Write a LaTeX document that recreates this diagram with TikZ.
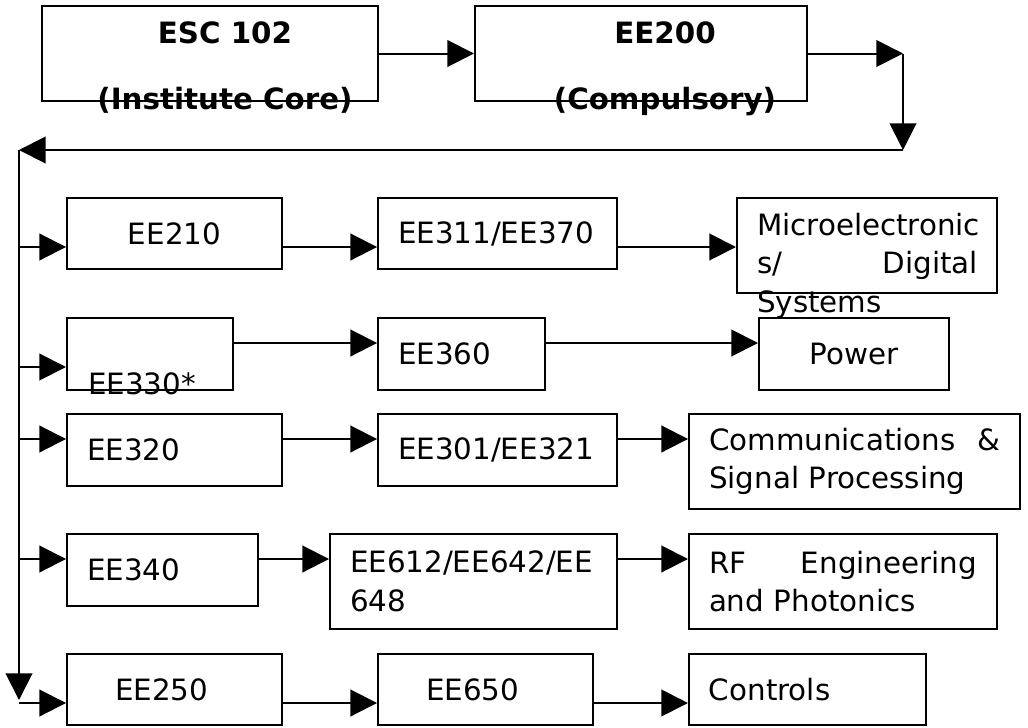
\documentclass[tikz,border=0pt]{standalone}
\usepackage{fontspec}
\setmainfont{DejaVu Sans}
\usetikzlibrary{arrows.meta,positioning,calc}
\tikzset{every picture/.style={line width=0.75pt}}
\newcommand\bodyfont{\fontsize{11}{14.5}\selectfont}
\tikzset{
  box/.style={draw, inner xsep=7.5pt, inner ysep=0pt, minimum height=26.8pt, align=left},
  tallbox/.style={box, minimum height=35.6pt},
  txt/.style={inner sep=0pt},
  arr/.style={-{Triangle[length=10pt,width=10pt]}},
}

\begin{document}
\begin{tikzpicture}[x=0.375pt, y=-0.375pt, font=\bodyfont]
    \useasboundingbox (0,0) rectangle (1028,728);

    % core courses
    \node[tallbox, minimum width=126pt] (esc) at (210,53.5) {};
    \node[txt, font=\bodyfont\bfseries, align=center, anchor=base] (esct) at (225,109) {ESC 102\\[10.25pt](Institute Core)};
    \node[tallbox, minimum width=124.5pt] (ee200) at (641,53.5) {};
    \node[txt, font=\bodyfont\bfseries, align=center, anchor=base] (ee200t) at (665,109) {EE200\\[10.25pt](Compulsory)};

    % turn back to the left
    \coordinate (c1) at (903,53.5);
    \coordinate (c2) at (903,150);
    \coordinate (c3) at (19,150);
    \coordinate (c4) at (19,700);
    \draw[arr] (esc) -- (ee200);
    \draw[arr] (ee200) -- (c1);
    \draw[arr] (c1) -- (c2);
    \draw[arr] (c2) -- (c3);
    \draw[arr] (c3) -- (c4);

    % branch points on the spine
    \coordinate (r1) at (19,247);
    \coordinate (r2) at (19,367);
    \coordinate (s2) at (19,343);
    \coordinate (r3) at (19,439);
    \coordinate (r4) at (19,559);
    \coordinate (r5) at (19,703);

    % row 1
    \node[box, text width=65.6pt, align=center] (ee210) at (174.5,233.5) {EE210};
    \node[box, text width=74.6pt] (ee311) at (497.5,233.5) {EE311/EE370};
    \node[tallbox, minimum width=97.5pt] (micro) at (867,245.5) {};
    \node[txt, anchor=base west, text width=82.9pt, align=left] (microt) at (756,235) {\mbox{Microelectronic}\\s/\hfill Digital\\Systems};
    \draw[arr] (r1) -- (r1 -| ee210.west);
    \draw[arr] (r1 -| ee210.east) -- (r1 -| ee311.west);
    \draw[arr] (r1 -| ee311.east) -- (r1 -| micro.west);

    % row 2
    \node[box, minimum width=62.25pt] (ee330) at (150,354) {};
    \node[txt, anchor=base west] (ee330t) at (87,394) {EE330*};
    \node[box, text width=47.6pt] (ee360) at (461.5,354) {EE360};
    \node[box, text width=56.25pt, align=center] (power) at (854,354) {Power};
    \draw[arr] (r2) -- (r2 -| ee330.west);
    \draw[arr] (s2 -| ee330.east) -- (s2 -| ee360.west);
    \draw[arr] (s2 -| ee360.east) -- (s2 -| power.west);

    % row 3
    \node[box, text width=65.6pt] (ee320) at (174.5,450) {EE320};
    \node[box, text width=74.6pt] (ee301) at (497.5,450) {EE301/EE321};
    \node[tallbox, text width=109.1pt] (comm) at (854.5,461.5) {Communications\hfill\&\\Signal Processing};
    \draw[arr] (r3) -- (r3 -| ee320.west);
    \draw[arr] (r3 -| ee320.east) -- (r3 -| ee301.west);
    \draw[arr] (r3 -| ee301.east) -- (r3 -| comm.west);

    % row 4
    \node[box, text width=56.6pt] (ee340) at (162.5,570) {EE340};
    \node[tallbox, text width=92.6pt] (ee612) at (473.5,581.5) {EE612/EE642/EE\\648};
    \node[tallbox, text width=100.5pt] (rf) at (843,581.5) {RF\hfill Engineering\\and Photonics};
    \draw[arr] (r4) -- (r4 -| ee340.west);
    \draw[arr] (r4 -| ee340.east) -- (r4 -| ee612.west);
    \draw[arr] (r4 -| ee612.east) -- (r4 -| rf.west);

    % row 5
    \node[box, text width=65.6pt] (ee250) at (174.5,689.5) {\hspace*{10.5pt}EE250};
    \node[box, text width=65.6pt] (ee650) at (485.5,689.5) {\hspace*{10.5pt}EE650};
    \node[box, text width=73.9pt] (ctrl) at (807.5,689.5) {Controls};
    \draw[arr] (r5) -- (r5 -| ee250.west);
    \draw[arr] (r5 -| ee250.east) -- (r5 -| ee650.west);
    \draw[arr] (r5 -| ee650.east) -- (r5 -| ctrl.west);
\end{tikzpicture}
\end{document}
